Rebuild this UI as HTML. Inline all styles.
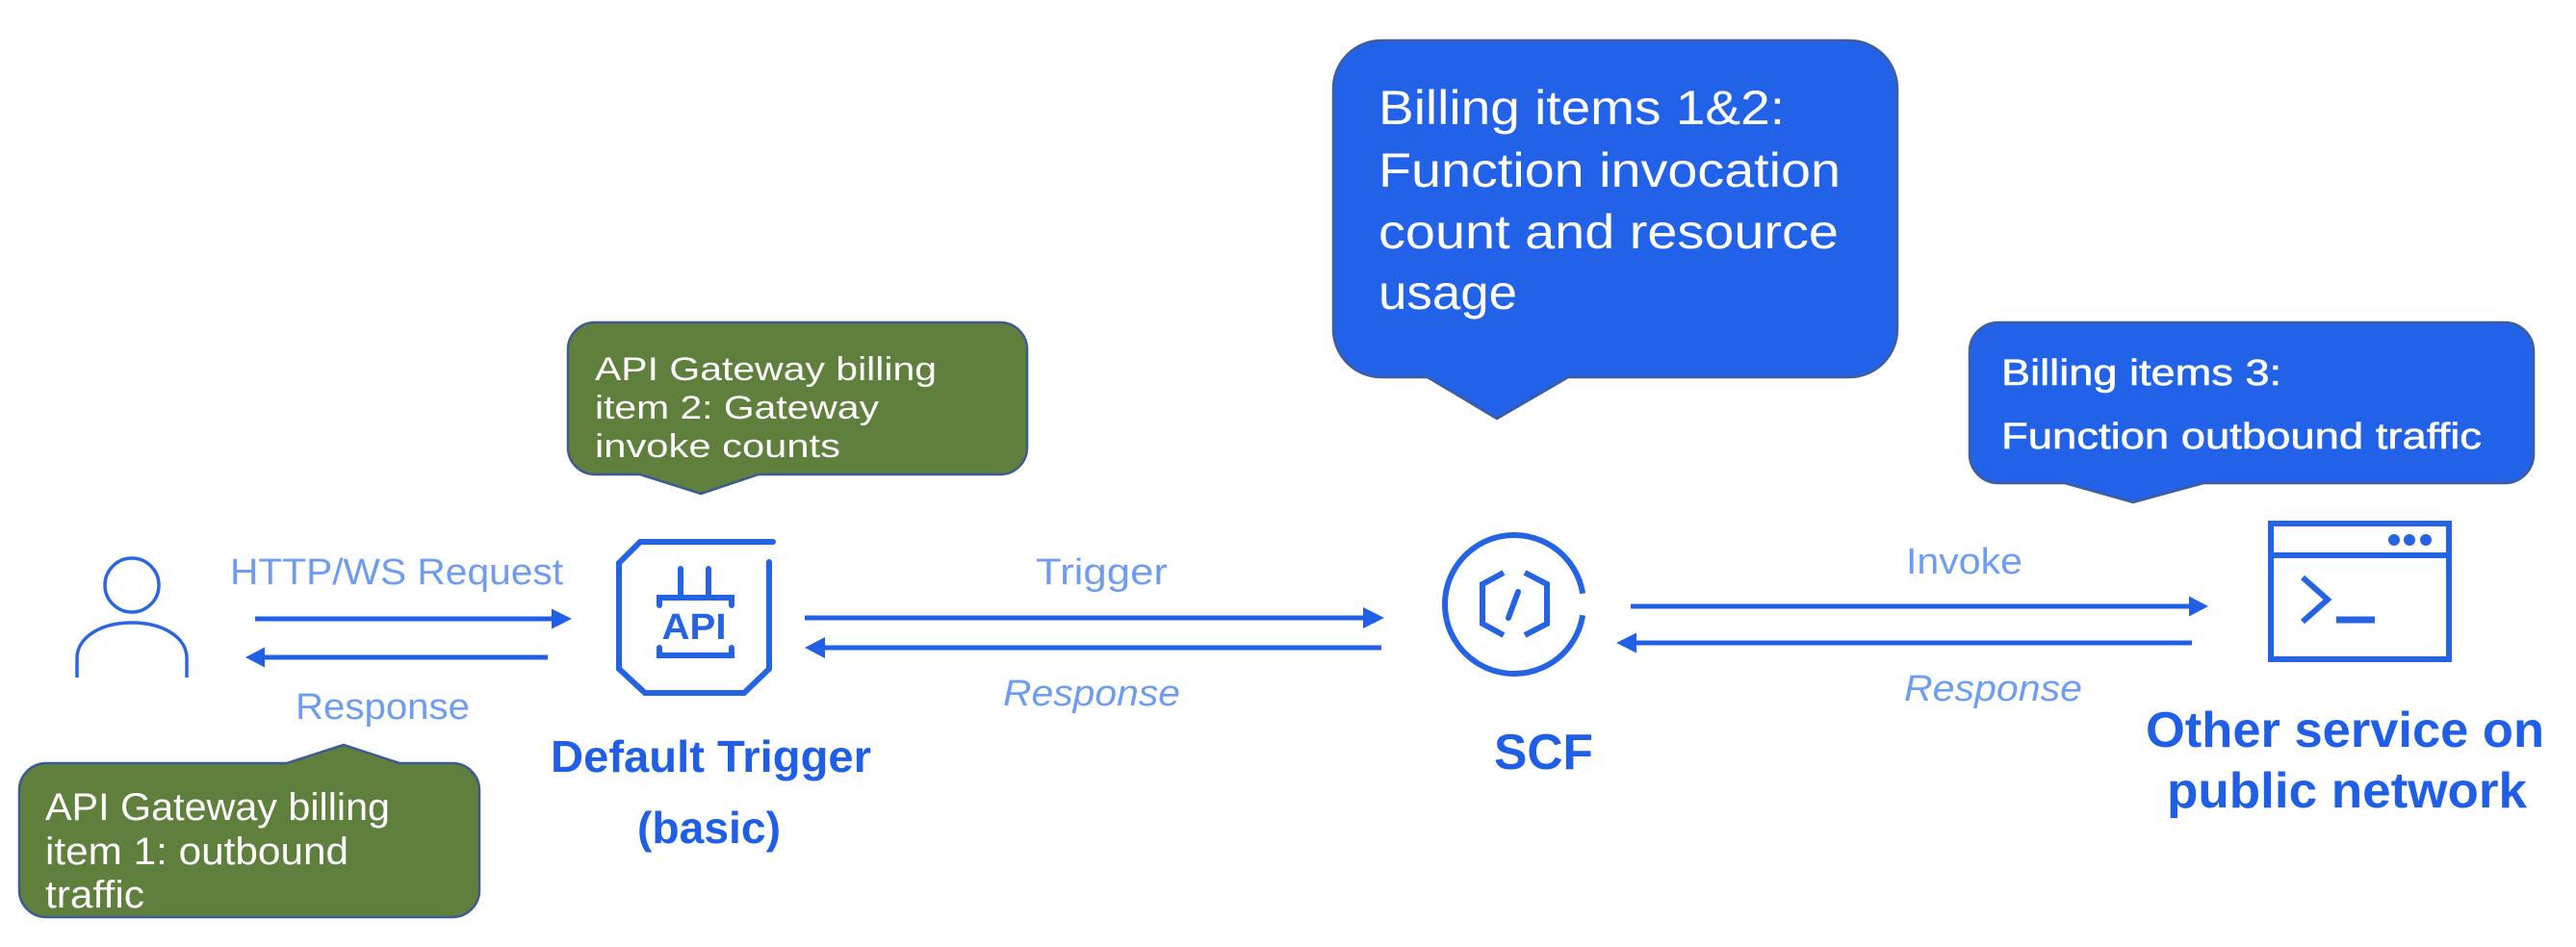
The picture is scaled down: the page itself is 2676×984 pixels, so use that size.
<!DOCTYPE html>
<html>
<head>
<meta charset="utf-8">
<style>
  html, body { margin: 0; padding: 0; background: #ffffff; }
  body { width: 2676px; height: 984px; overflow: hidden; }
  svg { display: block; }
  text { font-family: "Liberation Sans", Arial, sans-serif; }
</style>
</head>
<body>
<svg width="2676" height="984" viewBox="0 0 2676 984" xmlns="http://www.w3.org/2000/svg">
  <rect x="0" y="0" width="2676" height="984" fill="#ffffff"/>

  <!-- ===== Speech bubbles ===== -->
  <!-- Top green bubble -->
  <path d="M618,335 H1039 A28,28 0 0 1 1067,363 V465 A28,28 0 0 1 1039,493 H788 L728,513 L665,493 H618 A28,28 0 0 1 590,465 V363 A28,28 0 0 1 618,335 Z"
        fill="#5f7f3d" stroke="#3d5a94" stroke-width="2.5"/>
  <g fill="#ffffff" font-size="34">
    <text x="618" y="395" textLength="355" lengthAdjust="spacingAndGlyphs">API Gateway billing</text>
    <text x="618" y="435" textLength="295" lengthAdjust="spacingAndGlyphs">item 2: Gateway</text>
    <text x="618" y="475" textLength="255" lengthAdjust="spacingAndGlyphs">invoke counts</text>
  </g>

  <!-- Bottom-left green bubble -->
  <path d="M48,793 H298 L357,774 L415,793 H470 A28,28 0 0 1 498,821 V925 A28,28 0 0 1 470,953 H48 A28,28 0 0 1 20,925 V821 A28,28 0 0 1 48,793 Z"
        fill="#5f7f3d" stroke="#3d5a94" stroke-width="2.5"/>
  <g fill="#ffffff" font-size="40">
    <text x="47" y="852" textLength="358" lengthAdjust="spacingAndGlyphs">API Gateway billing</text>
    <text x="47" y="898" textLength="315" lengthAdjust="spacingAndGlyphs">item 1: outbound</text>
    <text x="47" y="943" textLength="103" lengthAdjust="spacingAndGlyphs">traffic</text>
  </g>

  <!-- Big blue bubble -->
  <path d="M1435,42 H1921 A50,50 0 0 1 1971,92 V342 A50,50 0 0 1 1921,392 H1629 L1555,435 L1483,392 H1435 A50,50 0 0 1 1385,342 V92 A50,50 0 0 1 1435,42 Z"
        fill="#2162e8" stroke="#3f5d9c" stroke-width="2.5"/>
  <g fill="#ffffff" font-size="50">
    <text x="1432" y="129" textLength="422" lengthAdjust="spacingAndGlyphs">Billing items 1&amp;2:</text>
    <text x="1432" y="194" textLength="480" lengthAdjust="spacingAndGlyphs">Function invocation</text>
    <text x="1432" y="258" textLength="478" lengthAdjust="spacingAndGlyphs">count and resource</text>
    <text x="1432" y="321" textLength="144" lengthAdjust="spacingAndGlyphs">usage</text>
  </g>

  <!-- Small blue bubble -->
  <path d="M2076,335 H2602 A30,30 0 0 1 2632,365 V472 A30,30 0 0 1 2602,502 H2289 L2216,522 L2145,502 H2076 A30,30 0 0 1 2046,472 V365 A30,30 0 0 1 2076,335 Z"
        fill="#2162e8" stroke="#3f5d9c" stroke-width="2.5"/>
  <g fill="#ffffff" stroke="#ffffff" stroke-width="0.6" font-size="38">
    <text x="2079" y="400" textLength="291" lengthAdjust="spacingAndGlyphs">Billing items 3:</text>
    <text x="2079" y="466" textLength="499" lengthAdjust="spacingAndGlyphs">Function outbound traffic</text>
  </g>

  <!-- ===== Person icon ===== -->
  <g fill="none" stroke="#2a66e0" stroke-width="3.5">
    <circle cx="137" cy="608" r="28"/>
    <path d="M80,704 V684 C80,662 105,647 137,647 C169,647 194,662 194,684 V704"/>
  </g>

  <!-- ===== API icon ===== -->
  <g fill="none" stroke="#2463e3" stroke-width="6" stroke-linecap="round" stroke-linejoin="miter">
    <path d="M803,563 H665 L643,585 V695 L670,720 H773 L799,695 V584"/>
    <path d="M707,591 V619 M736,591 V619"/>
    <path d="M685,629 V621 H760 V629"/>
    <path d="M685,673 V681 H760 V673"/>
  </g>
  <text x="721" y="664" text-anchor="middle" font-family="Liberation Mono, monospace" font-weight="bold" font-size="38" fill="#2463e3" textLength="67" lengthAdjust="spacingAndGlyphs">API</text>

  <!-- ===== SCF icon ===== -->
  <g fill="none" stroke="#2463e3" stroke-width="6">
    <path d="M1644.1,616.7 A72,72 0 1 0 1644.1,639.3"/>
    <path d="M1562,595 L1540,607 V648 L1562,660"/>
    <path d="M1584,595 L1607,607 V648 L1584,660"/>
    <path d="M1577,615 L1567,642" stroke-linecap="round"/>
  </g>

  <!-- ===== Terminal icon ===== -->
  <g fill="none" stroke="#2463e3" stroke-width="6">
    <rect x="2359" y="544" width="185" height="141"/>
    <path d="M2359,577 H2544"/>
    <path d="M2392,600 L2418,623 L2392,646"/>
  </g>
  <g fill="#2463e3">
    <circle cx="2487" cy="561" r="6"/>
    <circle cx="2503" cy="561" r="6"/>
    <circle cx="2520" cy="561" r="6"/>
    <rect x="2427" y="640.5" width="40" height="7"/>
  </g>

  <!-- ===== Arrows ===== -->
  <g stroke="#2160e6" stroke-width="5" fill="none">
    <path d="M265,643 H575"/>
    <path d="M273,683 H569"/>
    <path d="M836,642 H1418"/>
    <path d="M855,673 H1435"/>
    <path d="M1694,630 H2276"/>
    <path d="M1698,668 H2277"/>
  </g>
  <g fill="#2160e6">
    <polygon points="573,632.5 594,643 573,653.5"/>
    <polygon points="275,672.5 255,683 275,693.5"/>
    <polygon points="1416,631 1438,642 1416,653"/>
    <polygon points="857,662 836,673 857,684"/>
    <polygon points="2274,619.5 2294,630 2274,640.5"/>
    <polygon points="1700,657.5 1679,668 1700,678.5"/>
  </g>

  <!-- ===== Connector labels ===== -->
  <g fill="#6d9cf0" font-size="38">
    <text x="239" y="607" textLength="346" lengthAdjust="spacingAndGlyphs">HTTP/WS Request</text>
    <text x="307" y="747" textLength="181" lengthAdjust="spacingAndGlyphs">Response</text>
    <text x="1076" y="607" textLength="137" lengthAdjust="spacingAndGlyphs">Trigger</text>
    <text x="1980" y="596" textLength="121" lengthAdjust="spacingAndGlyphs">Invoke</text>
    <text x="1042" y="733" font-style="italic" textLength="184" lengthAdjust="spacingAndGlyphs">Response</text>
    <text x="1978" y="728" font-style="italic" textLength="185" lengthAdjust="spacingAndGlyphs">Response</text>
  </g>

  <!-- ===== Node labels ===== -->
  <g fill="#1f5ee6" font-weight="bold">
    <text x="572" y="802" font-size="46" textLength="333" lengthAdjust="spacingAndGlyphs">Default Trigger</text>
    <text x="662" y="876" font-size="46" textLength="149" lengthAdjust="spacingAndGlyphs">(basic)</text>
    <text x="1552" y="799" font-size="52" textLength="103" lengthAdjust="spacingAndGlyphs">SCF</text>
    <text x="2229" y="776" font-size="52" textLength="414" lengthAdjust="spacingAndGlyphs">Other service on</text>
    <text x="2251" y="839" font-size="52" textLength="374" lengthAdjust="spacingAndGlyphs">public network</text>
  </g>
</svg>
</body>
</html>
